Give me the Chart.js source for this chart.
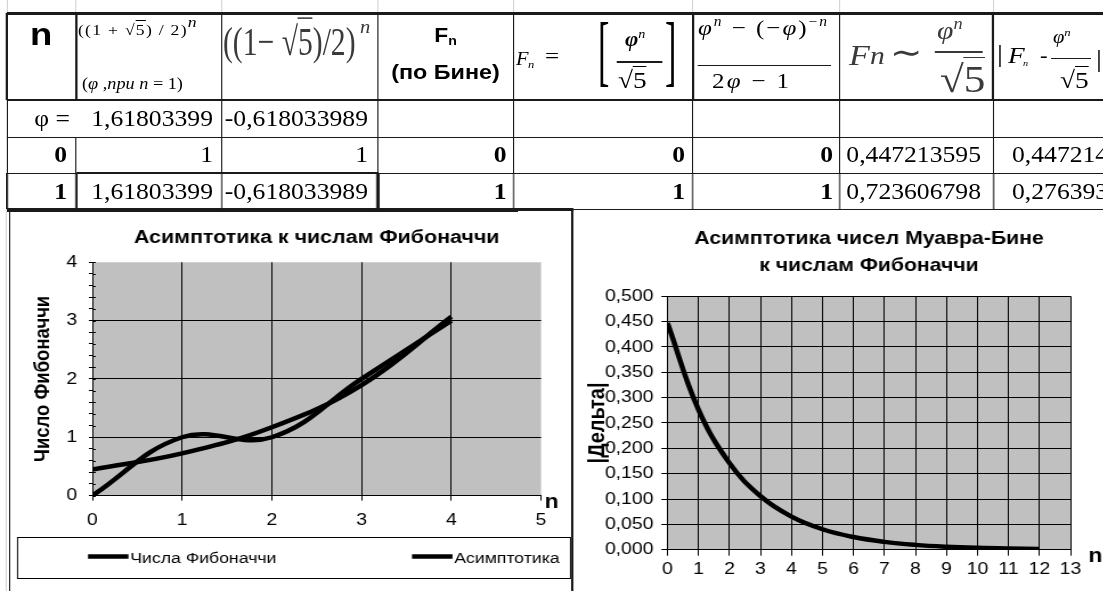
<!DOCTYPE html>
<html lang="ru">
<head>
<meta charset="utf-8">
<title>Асимптотика к числам Фибоначчи</title>
<script src="https://cdn.jsdelivr.net/npm/chart.js@4.4.1/dist/chart.umd.min.js"></script>
<style>
  html, body { margin:0; padding:0; background:#fff; overflow:hidden; width:1103px; height:591px; }
  #page { position:absolute; left:0; top:0; width:968px; height:591px; transform:scaleX(1.14); transform-origin:0 0; }
  .ab { position:absolute; white-space:nowrap; line-height:1; font-family:'Liberation Serif','Times New Roman',serif; color:#000; }
  .ln { position:absolute; }
  .sup { position:relative; font-size:0.62em; top:-0.62em; }
  .sub { position:relative; font-size:0.62em; top:0.25em; }
  .ov { border-top:1.5px solid currentColor; }
  canvas { position:absolute; }
</style>
</head>
<body>
<div id="page">
  <canvas id="chartFib" width="497" height="382" style="left:7px;top:209px"></canvas>
  <canvas id="chartDelta" width="465" height="382" style="left:502.6px;top:209px"></canvas>
</div>
<script>
// ---------------- data ----------------
const fibN        = [0, 1, 2, 3, 4];
const fibValues   = [0, 1, 1, 2, 3];
const asymValues  = [0.447213595, 0.723606798, 1.170820393, 1.894427191, 3.065247584];
const deltaN      = [0, 1, 2, 3, 4, 5, 6, 7, 8, 9, 10, 11, 12];
const deltaValues = [0.447214, 0.276393, 0.170820, 0.105573, 0.065248, 0.040325, 0.024922,
                     0.015403, 0.009519, 0.005883, 0.003636, 0.002247, 0.001389];
const seriesLabels = ['Числа Фибоначчи', 'Асимптотика'];
const deltaLabel   = '|Дельта|';
const chart1Title  = 'Асимптотика к числам Фибоначчи';
const chart1YTitle = 'Число Фибоначчи';
const chart2Title  = ['Асимптотика чисел Муавра-Бине', 'к числам Фибоначчи'];
const chart2YTitle = '|Дельта|';
const xAxisName    = 'n';
const tableRowPhi  = ['φ =', '1,61803399', '-0,618033989', '', '', '', '', ''];
const tableRow0    = ['0', '1', '1', '0', '0', '0', '0,447213595', '0,447214'];
const tableRow1    = ['1', '1,61803399', '-0,618033989', '1', '1', '1', '0,723606798', '0,276393'];

// ---------------- sheet / table (page px, stretched horizontally) ----------------
const S = 1.14;
const page = document.getElementById('page');
const U = x => x / S;
const INK = '#1a1a1a';

function hline(x1, x2, y, w, c) {
  const d = document.createElement('div'); d.className = 'ln';
  d.style.left = U(x1) + 'px'; d.style.width = U(x2 - x1) + 'px';
  d.style.top = (y - w / 2) + 'px'; d.style.height = w + 'px';
  d.style.background = c || INK; page.appendChild(d);
}
function vline(x, y1, y2, w, c) {
  const d = document.createElement('div'); d.className = 'ln';
  d.style.left = U(x - w / 2) + 'px'; d.style.width = U(w) + 'px';
  d.style.top = y1 + 'px'; d.style.height = (y2 - y1) + 'px';
  d.style.background = c || INK; page.appendChild(d);
}
function put(x, top, html, st) {
  const d = document.createElement('div'); d.className = 'ab';
  d.style.left = U(x) + 'px'; d.style.top = top + 'px';
  d.innerHTML = html; Object.assign(d.style, st || {}); page.appendChild(d); return d;
}
const SANSB = sz => ({fontFamily: "'Liberation Sans', Arial, sans-serif", fontWeight: 'bold', fontSize: sz + 'px'});

const colX = [7, 76, 222, 378, 513, 693, 839, 993];
// faint sheet gridlines
colX.forEach(x => vline(x, 0, 12, 1, '#d4d4d4'));
vline(6, 209, 591, 1, '#d4d4d4');

// header content
const RAD5 = '√<span class="ov">5</span>';
const GREY = '#3a3a3a';
put(30, 18, 'n', SANSB(32));
put(78, 22.3, '((1 + ' + RAD5 + ') / 2)<span style="position:relative;top:-0.55em;font-style:italic">n</span>', {fontSize: '15.5px', letterSpacing: '1.1px'});
put(82, 75.6, '(<i>φ</i> ,<i>при n</i> = 1)', {fontSize: '16px'});
put(223, 22.1, '((1− ' + RAD5 + ')/2)', {fontSize: '26px', color: GREY, transform: 'scaleY(1.55)', transformOrigin: '0 0'});
put(360, 17.9, '<i>n</i>', {fontSize: '18px', color: GREY});
put(445.5, 25, 'F<span class="sub">n</span>', Object.assign(SANSB(20), {transform: 'translateX(-50%)'}));
put(445.5, 62, '(по Бине)', Object.assign(SANSB(20.5), {transform: 'translateX(-50%)'}));
// F_n = [phi^n / sqrt5]
put(516, 49.9, '<i>F</i>', {fontSize: '18px'});
put(528, 58.8, '<i>n</i>', {fontSize: '11px'});
put(545, 45.1, '=', {fontSize: '22px'});
put(598, 12.4, '[', {fontSize: '30px', transform: 'scaleY(2.6)', transformOrigin: '0 0'});
put(665, 12.4, ']', {fontSize: '30px', transform: 'scaleY(2.6)', transformOrigin: '0 0'});
put(625, 28.9, '<b><i>φ</i></b><span class="sup"><i>n</i></span>', {fontSize: '20px'});
hline(617, 662, 62, 1.3);
put(618, 67.9, RAD5, {fontSize: '24px'});
// (phi^n - (-phi)^-n) / (2phi - 1)
put(698, 16.6, '<i>φ</i><span class="sup"><i>n</i></span> − (−<i>φ</i>)<span class="sup">−<i>n</i></span>', {fontSize: '22px', letterSpacing: '1.7px'});
hline(698, 831, 65, 1);
put(712, 69.6, '2<i>φ</i> − 1', {fontSize: '22px', letterSpacing: '2px'});
// F_n ~ phi^n / sqrt5
put(849, 39.9, '<i>F</i>', {fontSize: '30px', color: GREY});
put(870, 43.2, '<i>n</i>', {fontSize: '26px', color: GREY});
put(890, 36, '∼', {fontSize: '34px', color: GREY});
put(937, 18.2, '<i>φ</i><span class="sup"><i>n</i></span>', {fontSize: '26px', color: GREY});
hline(935, 983, 52, 1.5, GREY);
put(940, 60.2, RAD5, {fontSize: '38px', color: GREY});
// | F_n - phi^n / sqrt5 |
put(997, 40.6, '|', {fontSize: '26px'});
put(1008, 42.9, '<i>F</i>', {fontSize: '24px'});
put(1023, 58.5, '<i>n</i>', {fontSize: '9px'});
put(1040, 45.3, '-', {fontSize: '20px'});
put(1053, 28, '<i>φ</i><span class="sup"><i>n</i></span>', {fontSize: '18px'});
hline(1051, 1091, 58, 1);
put(1060, 67.9, RAD5, {fontSize: '24px'});
put(1096, 45.6, '|', {fontSize: '26px'});

// body rows
const rowBase = [127, 163, 200];
const cellRight = [67, 213, 368, 506.7, 685, 833, 981];
const lastColLeft = 1012;
const boldCols = [0, 3, 4, 5];
[tableRowPhi, tableRow0, tableRow1].forEach((row, r) => {
  row.forEach((txt, c) => {
    if (!txt) return;
    const st = {fontSize: '22.5px', fontWeight: boldCols.includes(c) && r > 0 ? 'bold' : 'normal'};
    const top = rowBase[r] - 18.85;
    if (c < 7) {
      const right = (r === 0 && c === 0) ? 70 : cellRight[c];
      st.transform = 'translateX(-100%)';
      put(right, top, txt, st);
    } else {
      put(lastColLeft, top, txt, st);
    }
  });
});

// table borders
hline(7, 1103, 13, 3);
hline(7, 1103, 100, 2.5);
hline(7, 1103, 137, 1);
hline(7, 1103, 173, 1);
hline(76, 378, 173, 2.5);
hline(7, 573, 209.5, 2.5);
hline(573, 1103, 209, 1);
const headW = [2, 2.5, 1, 1, 1, 2.5, 1, 2.5];
colX.forEach((x, i) => vline(x, 13, 100, headW[i]));
colX.forEach((x, i) => { if (i !== 1) vline(x, 100, 137, 1); });
colX.forEach(x => vline(x, 137, 173, 1));
const row1W = [2, 2.5, 1, 2.5, 1, 1, 1, 1];
colX.forEach((x, i) => vline(x, 173, 209, row1W[i]));
// chart frames
vline(10, 209, 591, 1.2);
vline(572.5, 209, 591, 2.5);

// ---------------- charts ----------------
const FAM = "'Liberation Sans', Arial, sans-serif";
Chart.defaults.font.family = FAM;
Chart.defaults.color = '#000';
const isInt = v => Math.abs(v - Math.round(v)) < 1e-6;
const CLEAR = 'rgba(0,0,0,0)';

const excelDecor = {
  id: 'excelDecor',
  beforeDraw(chart, args, o) {
    const a = chart.chartArea, ctx = chart.ctx;
    ctx.save(); ctx.fillStyle = o.plotBg;
    ctx.fillRect(a.left, a.top, a.right - a.left, a.bottom - a.top); ctx.restore();
  },
  beforeDatasetsDraw(chart, args, o) {
    if (!o.innerTick) return;
    const ctx = chart.ctx, y = chart.scales.y, a = chart.chartArea;
    ctx.save(); ctx.strokeStyle = '#000'; ctx.lineWidth = 1; ctx.beginPath();
    y.ticks.forEach(t => {
      const py = Math.round(y.getPixelForValue(t.value)) + 0.5;
      ctx.moveTo(a.left, py); ctx.lineTo(a.left + o.innerTick, py);
    });
    ctx.stroke(); ctx.restore();
  },
  afterDraw(chart, args, o) {
    const ctx = chart.ctx, a = chart.chartArea;
    if (o.endLabel) {
      ctx.save(); ctx.font = 'bold 20px ' + FAM; ctx.fillStyle = '#000';
      ctx.textAlign = 'center'; ctx.textBaseline = 'middle';
      ctx.fillText(o.endLabel.text, a.right + o.endLabel.dx, a.bottom + o.endLabel.dy);
      ctx.restore();
    }
    if (o.legendBox) {
      const L = o.legendBox;
      ctx.save(); ctx.strokeStyle = '#000'; ctx.lineWidth = 1;
      ctx.strokeRect(L.x + 0.5, L.y + 0.5, L.w, L.h);
      ctx.font = L.fontSize + 'px ' + FAM; ctx.textBaseline = 'middle'; ctx.textAlign = 'left';
      ctx.fillStyle = '#000';
      chart.data.datasets.forEach((ds, i) => {
        const it = L.items[i];
        ctx.strokeStyle = ds.borderColor; ctx.lineWidth = L.lineWidth;
        ctx.beginPath(); ctx.moveTo(it.x, L.lineY); ctx.lineTo(it.x + L.lineLen, L.lineY); ctx.stroke();
        ctx.fillText(ds.label, it.x + L.lineLen + L.gap, L.textY);
      });
      ctx.restore();
    }
  }
};

new Chart(document.getElementById('chartFib'), {
  type: 'line',
  data: {
    datasets: [
      {label: seriesLabels[0], data: fibN.map((n, i) => ({x: n, y: fibValues[i]})),
       borderColor: '#000', borderWidth: 4.5, tension: 0.4, pointRadius: 0, fill: false},
      {label: seriesLabels[1], data: fibN.map((n, i) => ({x: n, y: asymValues[i]})),
       borderColor: '#000', borderWidth: 4.5, tension: 0.4, pointRadius: 0, fill: false}
    ]
  },
  options: {
    responsive: false, animation: false, devicePixelRatio: 1, events: [],
    layout: {padding: {left: 0, top: 0, right: 29.4, bottom: 55.4}},
    plugins: {
      legend: {display: false}, tooltip: {enabled: false},
      title: {display: true, fullSize: false, text: chart1Title, color: '#000',
              font: {size: 18.8, weight: 'bold', lineHeight: 1.2}, padding: {top: 17.7, bottom: 13.0}},
      excelDecor: {
        plotBg: '#C0C0C0', innerTick: 3,
        endLabel: {text: xAxisName, dx: 9.3, dy: 6.9},
        legendBox: {x: 7.9, y: 328, w: 485, h: 41, items: [{x: 70.2}, {x: 354.4}],
                    lineLen: 35.5, gap: 1.5, lineY: 347.5, textY: 350, lineWidth: 4.5, fontSize: 15.5}
      }
    },
    scales: {
      x: {
        type: 'linear', min: 0, max: 5,
        afterFit: s => { s.height = 40; },
        ticks: {stepSize: 1, autoSkip: false, maxRotation: 0, color: '#000', font: {size: 17}, padding: 9.3},
        grid: {color: c => { const v = c.tick ? c.tick.value : 0; return (v > 0.5 && v < 4.5) ? '#000' : CLEAR; },
               tickColor: '#000', tickLength: 5, lineWidth: 1},
        border: {display: true, color: '#000', width: 1}
      },
      y: {
        type: 'linear', min: 0, max: 4,
        afterFit: s => { s.width = 74; },
        ticks: {stepSize: 0.2, autoSkip: false, color: '#000', font: {size: 17}, padding: 10.2,
                callback: v => isInt(v) ? String(Math.round(v)) : ''},
        grid: {color: c => { const v = c.tick ? c.tick.value : 0; return (isInt(v) && v > 0.5 && v < 3.5) ? '#000' : CLEAR; },
               tickColor: '#000', tickLength: 3, lineWidth: 1},
        border: {display: true, color: '#000', width: 1},
        title: {display: true, text: chart1YTitle, color: '#000', font: {size: 18.5, weight: 'bold'},
                padding: {top: 19.6, bottom: 0}}
      }
    }
  },
  plugins: [excelDecor]
});

new Chart(document.getElementById('chartDelta'), {
  type: 'line',
  data: {
    datasets: [
      {label: deltaLabel, data: deltaN.map((n, i) => ({x: n, y: deltaValues[i]})),
       borderColor: '#000', borderWidth: 4.5, tension: 0.4, pointRadius: 0, fill: false}
    ]
  },
  options: {
    responsive: false, animation: false, devicePixelRatio: 1, events: [],
    layout: {padding: {left: 0, top: 0, right: 29, bottom: 6.3}},
    plugins: {
      legend: {display: false}, tooltip: {enabled: false},
      title: {display: true, fullSize: false, text: chart2Title, color: '#000',
              font: {size: 18.6, weight: 'bold', lineHeight: 1.45}, padding: {top: 16.8, bottom: 16.5}},
      excelDecor: {plotBg: '#C0C0C0', endLabel: {text: xAxisName, dx: 21.9, dy: 6.3}}
    },
    scales: {
      x: {
        type: 'linear', min: 0, max: 13,
        afterFit: s => { s.height = 35; },
        ticks: {stepSize: 1, autoSkip: false, maxRotation: 0, color: '#000', font: {size: 17}, padding: 3.2},
        grid: {color: '#000', tickColor: '#000', tickLength: 6, lineWidth: 1},
        border: {display: true, color: '#000', width: 1}
      },
      y: {
        type: 'linear', min: 0, max: 0.5,
        afterFit: s => { s.width = 82.5; },
        ticks: {stepSize: 0.05, autoSkip: false, color: '#000', font: {size: 17}, padding: 7,
                callback: v => v.toFixed(3).replace('.', ',')},
        grid: {color: '#000', tickColor: '#000', tickLength: 5.3, lineWidth: 1},
        border: {display: true, color: '#000', width: 1},
        title: {display: true, text: chart2YTitle, color: '#000', font: {size: 20, weight: 'bold'},
                padding: {top: 9.3, bottom: 0}}
      }
    }
  },
  plugins: [excelDecor]
});
</script>
</body>
</html>
